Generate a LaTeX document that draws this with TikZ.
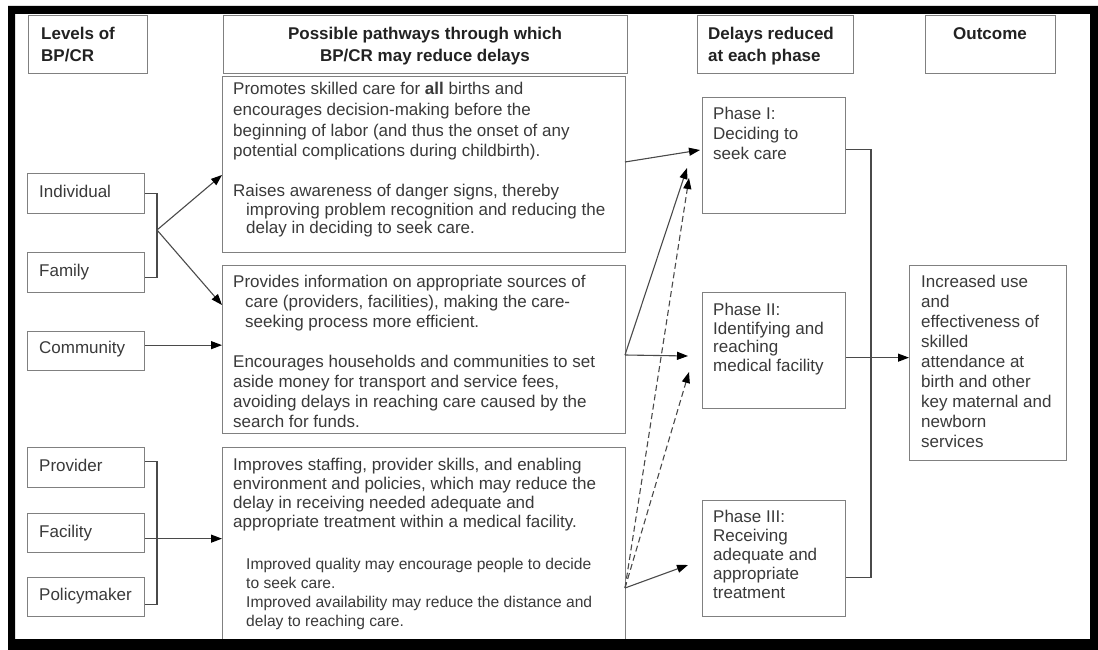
\documentclass[tikz,border=0pt]{standalone}
\usepackage{fontspec}
\setmainfont{Liberation Sans}
\usetikzlibrary{arrows.meta,calc}
\definecolor{txt}{HTML}{3A3A3A}
\definecolor{hdr}{HTML}{222222}
\definecolor{bord}{HTML}{808080}
\definecolor{conn}{HTML}{4A4A4A}
\begin{document}
\begin{tikzpicture}[x=1pt,y=-1pt,
  box/.style={draw=bord, line width=1.3pt, inner sep=0pt, anchor=north west, fill=white},
  hdtext/.style={inner sep=0pt, text=hdr, font=\fontsize{17}{22}\selectfont\bfseries},
  body/.style={inner sep=0pt, anchor=north west, align=left, text=txt, font=\fontsize{17}{#1}\selectfont},
  body/.default=20,
  small/.style={inner sep=0pt, anchor=north west, align=left, text=txt, font=\fontsize{15.6}{19}\selectfont},
  lvl/.style={inner sep=0pt, anchor=base west, text=txt, font=\fontsize{17}{20}\selectfont},
  line/.style={draw=conn, line width=1.1pt},
  arr/.style={draw=conn, line width=1.1pt, -{Triangle[length=11pt,width=8pt,color=black]}},
  darr/.style={arr, dash pattern=on 6pt off 3.5pt},
]
\useasboundingbox (0,0) rectangle (1098,650);
\fill[white] (0,0) rectangle (1098,650);

% header boxes
\node[box, minimum width=119pt, minimum height=58pt] (hd1) at (28,15) {};
\node[box, minimum width=404pt, minimum height=58pt] (hd2) at (223,15) {};
\node[box, minimum width=156pt, minimum height=58pt] (hd3) at (697,15) {};
\node[box, minimum width=130pt, minimum height=58pt] (hd4) at (925,15) {};
\node[hdtext, anchor=north west, align=left] (thd1) at (41,27) {Levels of\\BP/CR};
\node[hdtext, anchor=north, align=center] (thd2) at (425,27) {Possible pathways through which\\BP/CR may reduce delays};
\node[hdtext, anchor=north west, align=left] (thd3) at (708,27) {Delays reduced\\at each phase};
\node[hdtext, anchor=north] (thd4) at (990,27) {Outcome};

% level boxes
\node[box, minimum width=117pt, minimum height=40pt] (ind) at (27,173) {};
\node[box, minimum width=117pt, minimum height=40pt] (fam) at (27,252) {};
\node[box, minimum width=117pt, minimum height=39pt] (com) at (27,331) {};
\node[box, minimum width=117pt, minimum height=40pt] (prov) at (27,447) {};
\node[box, minimum width=117pt, minimum height=39pt] (fac) at (27,513) {};
\node[box, minimum width=117pt, minimum height=39pt] (pol) at (27,577) {};
\node[lvl] (tind) at (39,197) {Individual};
\node[lvl] (tfam) at (39,276) {Family};
\node[lvl] (tcom) at (39,353) {Community};
\node[lvl] (tprov) at (39,471) {Provider};
\node[lvl] (tfac) at (39,537) {Facility};
\node[lvl] (tpol) at (39,600) {Policymaker};

% pathway boxes
\node[box, minimum width=403pt, minimum height=176pt] (b1) at (222,76) {};
\node[box, minimum width=403pt, minimum height=168pt] (b2) at (222,265) {};
\node[box, minimum width=403pt, minimum height=193pt] (b3) at (222,447) {};

\node[body=20.8] (b1a) at (233,82) {Promotes skilled care for \textbf{all} births and\\encourages decision-making before the\\beginning of labor (and thus the onset of any\\potential complications during childbirth).};
\node[body=18.5] (b1b) at (233,184) {Raises awareness of danger signs, thereby\\\hspace*{13pt}improving problem recognition and reducing the\\\hspace*{13pt}delay in deciding to seek care.};
\node[body=20] (b2a) at (233,275) {Provides information on appropriate sources of\\\hspace*{12pt}care (providers, facilities), making the care-\\\hspace*{12pt}seeking process more efficient.};
\node[body=20] (b2b) at (233,355) {Encourages households and communities to set\\aside money for transport and service fees,\\avoiding delays in reaching care caused by the\\search for funds.};
\node[body=19] (b3a) at (233,458) {Improves staffing, provider skills, and enabling\\environment and policies, which may reduce the\\delay in receiving needed adequate and\\appropriate treatment within a medical facility.};
\node[small] (b3b) at (246,558) {Improved quality may encourage people to decide\\to seek care.\\Improved availability may reduce the distance and\\delay to reaching care.};

% phase boxes
\node[box, minimum width=143pt, minimum height=116pt] (p1) at (702,97) {};
\node[box, minimum width=143pt, minimum height=116pt] (p2) at (702,292) {};
\node[box, minimum width=143pt, minimum height=116pt] (p3) at (702,500) {};
\node[body=20] (tp1) at (713,107) {Phase I:\\Deciding to\\seek care};
\node[body=18.5] (tp2) at (713,303) {Phase II:\\Identifying and\\reaching\\medical facility};
\node[body=19] (tp3) at (713,510) {Phase III:\\Receiving\\adequate and\\appropriate\\treatment};

% outcome box
\node[box, minimum width=157pt, minimum height=195pt] (out) at (909,265) {};
\node[body=20] (tout) at (921,275) {Increased use\\and\\effectiveness of\\skilled\\attendance at\\birth and other\\key maternal and\\newborn\\services};

% left connectors
\coordinate (j1) at (157,230);
\coordinate (sind) at (ind.east);
\coordinate (sfam) at ([yshift=-5pt]fam.east);
\coordinate (scom) at ([yshift=6pt]com.east);
\coordinate (sprov) at ([yshift=6pt]prov.east);
\coordinate (spol) at ([yshift=-7pt]pol.east);
\coordinate (sfac) at ([yshift=-5.5pt]fac.east);
\draw[line] (sind) -| (j1);
\draw[line] (sfam) -| (j1);
\coordinate (t1) at (222,175);
\coordinate (t2) at (222,305);
\draw[arr] (j1) -- (t1);
\draw[arr] (j1) -- (t2);
\draw[arr] (scom) -- (b2.west |- scom);

\coordinate (j2) at (157,538);
\draw[line] (sprov) -| (j2);
\draw[line] (spol) -| (j2);
\draw[arr] (sfac) -- (b3.west |- sfac);

% middle connectors
\coordinate (o1) at (625,162);
\coordinate (o2) at (625,355);
\coordinate (o3) at (625,588);
\coordinate (q1) at (700,150);
\coordinate (q1s) at (687,168);
\coordinate (q1d) at (689,178);
\coordinate (q2) at (688,356);
\coordinate (q2d) at (689,372);
\coordinate (q3) at (688,565);
\draw[arr] (o1) -- (q1);
\draw[arr] (o2) -- (q2);
\draw[arr] (o2) -- (q1s);
\draw[darr] (o3) -- (q1d);
\draw[darr] (o3) -- (q2d);
\draw[arr] (o3) -- (q3);

% right connectors
\coordinate (j3) at (871,360);
\coordinate (sp1) at ([yshift=6pt]p1.east);
\coordinate (sp3) at ([yshift=-19pt]p3.east);
\coordinate (sp2) at ([yshift=-7pt]p2.east);
\draw[line] (sp1) -| (j3);
\draw[line] (sp3) -| (j3);
\draw[arr] (sp2) -- (out.west |- sp2);

% black frame
\fill[black, even odd rule] (8,6) rectangle (1098,650) (15,14) rectangle (1090,639);
\end{tikzpicture}
\end{document}
